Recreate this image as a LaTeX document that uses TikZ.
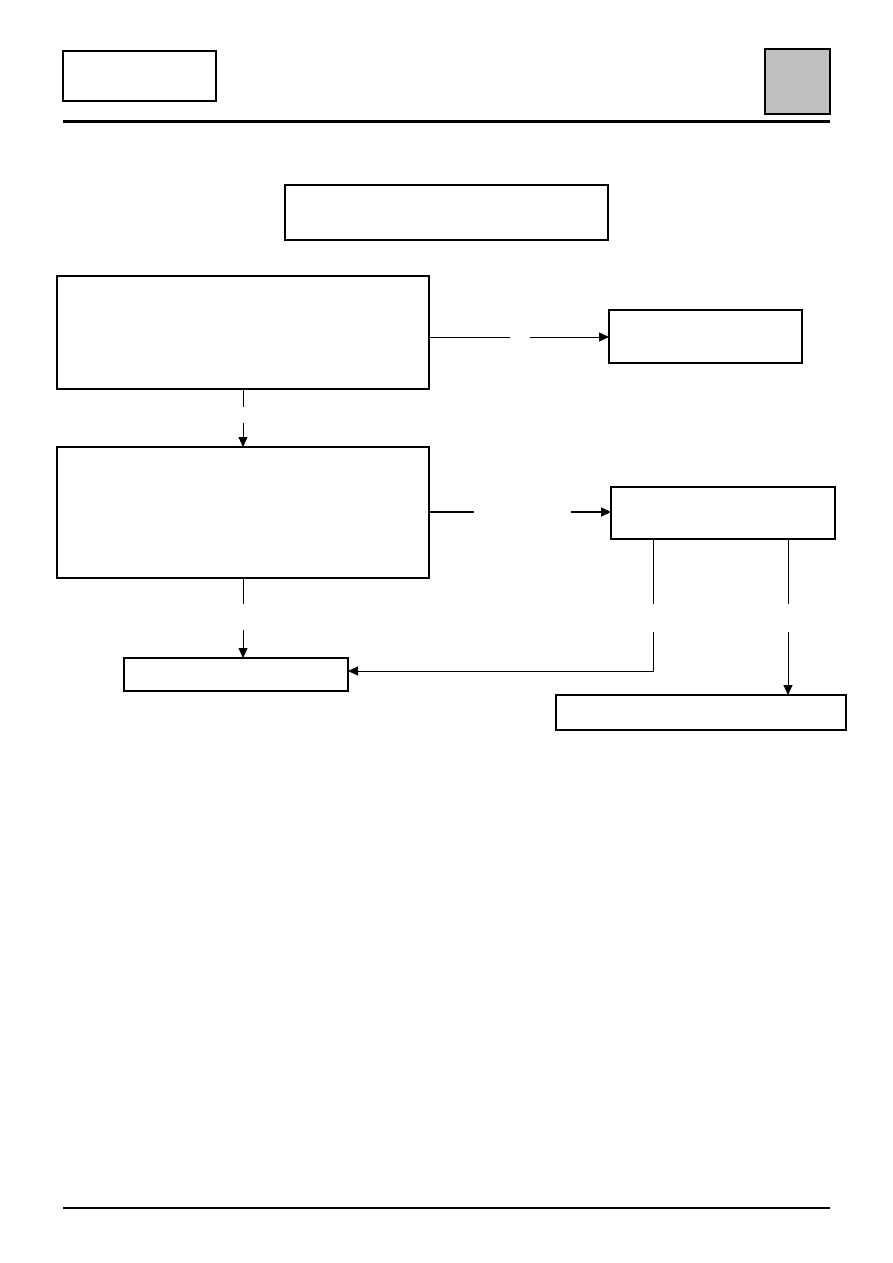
\documentclass[tikz,border=0pt]{standalone}
\usetikzlibrary{arrows.meta}
\begin{document}
\begin{tikzpicture}[x=1pt,y=-1pt,
  box/.style={draw, line width=1.1pt, rectangle, inner sep=0pt, outer sep=0pt, anchor=north west},
  conn/.style={line width=1pt},
  arr/.style={line width=1pt, -{Triangle[length=10pt,width=9pt]}}]
\useasboundingbox (0,0) rectangle (893,1263);
% header
\node[box, minimum width=153pt, minimum height=50pt] (hdr) at (63,51) {};
\node[box, fill=black!25, minimum width=65pt, minimum height=65pt] (tab) at (765,49) {};
\coordinate (hl1) at (63,121); \coordinate (hl2) at (830,121);
\draw[line width=3pt] (hl1) -- (hl2);
% boxes
\node[box, minimum width=323pt, minimum height=55pt] (T) at (285,185) {};
\node[box, minimum width=372pt, minimum height=113pt] (A) at (57,276) {};
\node[box, minimum width=193pt, minimum height=53pt] (B) at (609,310) {};
\draw[line width=2pt] (B.north west) -- (B.south west);
\node[box, minimum width=372pt, minimum height=131pt] (C) at (57,447) {};
\node[box, minimum width=224pt, minimum height=52pt] (D) at (611,487) {};
\node[box, minimum width=224pt, minimum height=33pt] (E) at (124,658) {};
\node[box, minimum width=290pt, minimum height=35pt] (F) at (556,695) {};
% connectors
\coordinate (ab1) at (510,337); \coordinate (ab2) at (530,337);
\draw[conn] (A.east |- ab1) -- (ab1);
\draw[arr] (ab2) -- (B.west |- ab2);
\coordinate (ac1) at (243,407); \coordinate (ac2) at (243,423);
\draw[conn] (A.south -| ac1) -- (ac1);
\draw[arr] (ac2) -- (C.north -| ac2);
\coordinate (cd1) at (474,512); \coordinate (cd2) at (571,512);
\draw[line width=2pt] (C.east |- cd1) -- (cd1);
\draw[line width=2pt, -{Triangle[length=10pt,width=9pt]}] (cd2) -- (D.west |- cd2);
\coordinate (ce1) at (243,604); \coordinate (ce2) at (243,630);
\draw[conn] (C.south -| ce1) -- (ce1);
\draw[arr] (ce2) -- (E.north -| ce2);
\coordinate (de1) at (653,604); \coordinate (de2) at (653,632); \coordinate (de3) at (653,671);
\draw[conn] (D.south -| de1) -- (de1);
\draw[arr] (de2) -- (de3) -- (E.east |- de3);
\coordinate (df1) at (788,604); \coordinate (df2) at (788,632);
\draw[conn] (D.south -| df1) -- (df1);
\draw[arr] (df2) -- (F.north -| df2);
% footer
\coordinate (fl1) at (63,1208); \coordinate (fl2) at (830,1208);
\draw[line width=2.2pt] (fl1) -- (fl2);
\end{tikzpicture}
\end{document}
